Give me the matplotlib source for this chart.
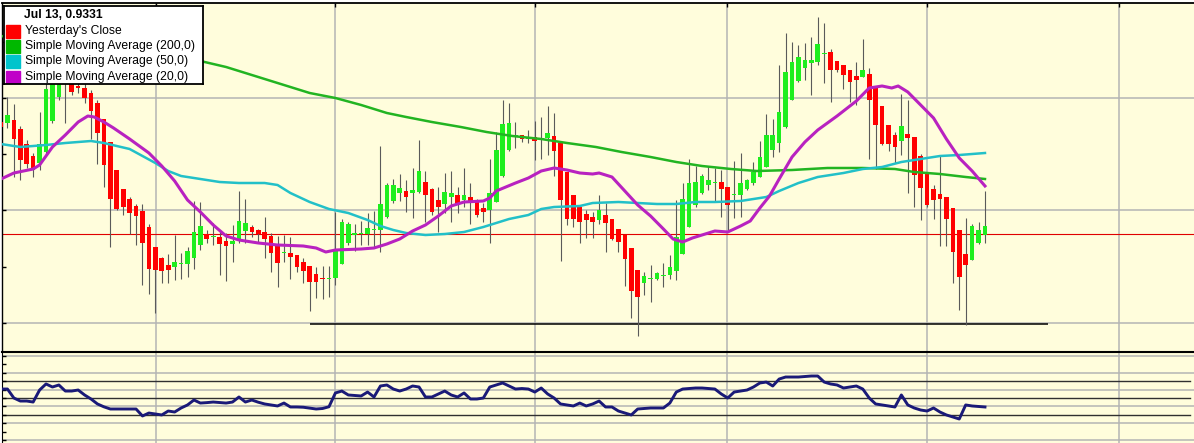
import matplotlib
matplotlib.use("Agg")
import matplotlib.pyplot as plt
import numpy as np
from matplotlib.patches import Rectangle

W, H, DPI = 1194, 443, 100
BG = "#fffddc"
GRID = "#b4b4b4"

# daily candles (oldest first)
opens = [0.9443, 0.9442, 0.9445, 0.9436, 0.9421, 0.9409, 0.9402, 0.9413, 0.9444, 0.9468,
         0.9487, 0.9487, 0.9479, 0.9477, 0.9472, 0.9462, 0.9446, 0.9423, 0.9395, 0.9376,
         0.9366, 0.9359, 0.9354, 0.9338, 0.9318, 0.9307, 0.9300, 0.9298, 0.9301, 0.9301,
         0.9307, 0.9320, 0.9331, 0.9328, 0.9328, 0.9324, 0.9321, 0.9324, 0.9334, 0.9338,
         0.9335, 0.9333, 0.9329, 0.9320, 0.9312, 0.9312, 0.9310, 0.9303, 0.9299, 0.9291,
         0.9287, 0.9286, 0.9287, 0.9301, 0.9322, 0.9330, 0.9331, 0.9331, 0.9335, 0.9335,
         0.9348, 0.9364, 0.9372, 0.9374, 0.9372, 0.9373, 0.9383, 0.9376, 0.9365, 0.9361,
         0.9368, 0.9370, 0.9365, 0.9368, 0.9365, 0.9357, 0.9355, 0.9363, 0.9389, 0.9415,
         0.9429, 0.9430, 0.9426, 0.9428, 0.9426, 0.9427, 0.9429, 0.9422, 0.9393, 0.9370,
         0.9358, 0.9351, 0.9348, 0.9345, 0.9350, 0.9346, 0.9336, 0.9330, 0.9317, 0.9295,
         0.9282, 0.9286, 0.9286, 0.9289, 0.9290, 0.9294, 0.9311, 0.9338, 0.9360, 0.9372,
         0.9380, 0.9382, 0.9383, 0.9378, 0.9370, 0.9370, 0.9376, 0.9382, 0.9388, 0.9398,
         0.9415, 0.9422, 0.9438, 0.9465, 0.9484, 0.9497, 0.9502, 0.9503, 0.9511, 0.9513,
         0.9504, 0.9500, 0.9495, 0.9489, 0.9488, 0.9491, 0.9478, 0.9459, 0.9440, 0.9430,
         0.9424, 0.9431, 0.9428, 0.9409, 0.9393, 0.9376, 0.9371, 0.9368, 0.9357, 0.9335,
         0.9311, 0.9305, 0.9322, 0.9330]
highs = [0.9447, 0.9468, 0.9461, 0.9439, 0.9425, 0.9412, 0.9453, 0.9490, 0.9503, 0.9497,
         0.9503, 0.9491, 0.9485, 0.9483, 0.9475, 0.9465, 0.9446, 0.9423, 0.9395, 0.9376,
         0.9368, 0.9361, 0.9361, 0.9341, 0.9318, 0.9308, 0.9311, 0.9330, 0.9312, 0.9318,
         0.9364, 0.9363, 0.9335, 0.9342, 0.9335, 0.9332, 0.9340, 0.9374, 0.9366, 0.9340,
         0.9336, 0.9348, 0.9332, 0.9329, 0.9330, 0.9328, 0.9310, 0.9307, 0.9299, 0.9298,
         0.9299, 0.9299, 0.9353, 0.9346, 0.9343, 0.9341, 0.9344, 0.9352, 0.9354, 0.9419,
         0.9382, 0.9386, 0.9391, 0.9385, 0.9397, 0.9425, 0.9394, 0.9377, 0.9378, 0.9392,
         0.9394, 0.9378, 0.9397, 0.9382, 0.9366, 0.9362, 0.9406, 0.9433, 0.9465, 0.9462,
         0.9443, 0.9430, 0.9435, 0.9444, 0.9448, 0.9459, 0.9452, 0.9422, 0.9393, 0.9370,
         0.9358, 0.9355, 0.9353, 0.9370, 0.9362, 0.9346, 0.9336, 0.9330, 0.9317, 0.9295,
         0.9293, 0.9300, 0.9293, 0.9302, 0.9310, 0.9365, 0.9382, 0.9406, 0.9399, 0.9391,
         0.9399, 0.9397, 0.9395, 0.9378, 0.9404, 0.9412, 0.9386, 0.9403, 0.9424, 0.9451,
         0.9446, 0.9500, 0.9532, 0.9523, 0.9520, 0.9522, 0.9528, 0.9548, 0.9542, 0.9516,
         0.9504, 0.9500, 0.9495, 0.9503, 0.9526, 0.9497, 0.9478, 0.9459, 0.9440, 0.9433,
         0.9471, 0.9465, 0.9428, 0.9411, 0.9393, 0.9380, 0.9409, 0.9368, 0.9357, 0.9335,
         0.9347, 0.9341, 0.9343, 0.9374]
lows = [0.9435, 0.9437, 0.9388, 0.9385, 0.9397, 0.9388, 0.9395, 0.9410, 0.9442, 0.9465,
        0.9442, 0.9470, 0.9472, 0.9462, 0.9426, 0.9401, 0.9378, 0.9318, 0.9355, 0.9350,
        0.9331, 0.9320, 0.9280, 0.9271, 0.9252, 0.9282, 0.9282, 0.9285, 0.9286, 0.9288,
        0.9296, 0.9315, 0.9322, 0.9320, 0.9290, 0.9284, 0.9303, 0.9322, 0.9322, 0.9328,
        0.9322, 0.9307, 0.9293, 0.9278, 0.9303, 0.9286, 0.9293, 0.9282, 0.9254, 0.9267,
        0.9266, 0.9268, 0.9280, 0.9301, 0.9320, 0.9314, 0.9320, 0.9320, 0.9318, 0.9313,
        0.9347, 0.9362, 0.9364, 0.9353, 0.9347, 0.9372, 0.9343, 0.9350, 0.9333, 0.9352,
        0.9343, 0.9352, 0.9358, 0.9341, 0.9348, 0.9343, 0.9322, 0.9363, 0.9388, 0.9414,
        0.9417, 0.9423, 0.9422, 0.9405, 0.9406, 0.9410, 0.9389, 0.9304, 0.9340, 0.9338,
        0.9322, 0.9327, 0.9327, 0.9341, 0.9313, 0.9325, 0.9313, 0.9279, 0.9247, 0.9229,
        0.9270, 0.9263, 0.9285, 0.9278, 0.9286, 0.9285, 0.9311, 0.9338, 0.9358, 0.9371,
        0.9375, 0.9363, 0.9348, 0.9335, 0.9347, 0.9348, 0.9375, 0.9380, 0.9388, 0.9398,
        0.9408, 0.9413, 0.9437, 0.9465, 0.9483, 0.9485, 0.9470, 0.9500, 0.9482, 0.9463,
        0.9493, 0.9476, 0.9463, 0.9460, 0.9488, 0.9406, 0.9396, 0.9420, 0.9414, 0.9402,
        0.9410, 0.9372, 0.9358, 0.9345, 0.9358, 0.9346, 0.9319, 0.9319, 0.9282, 0.9255,
        0.9240, 0.9305, 0.9321, 0.9322]
closes = [0.9438, 0.9450, 0.9426, 0.9405, 0.9401, 0.9395, 0.9421, 0.9476, 0.9495, 0.9490,
          0.9495, 0.9473, 0.9477, 0.9467, 0.9454, 0.9432, 0.9400, 0.9366, 0.9356, 0.9358,
          0.9352, 0.9349, 0.9322, 0.9296, 0.9295, 0.9294, 0.9295, 0.9303, 0.9302, 0.9314,
          0.9333, 0.9339, 0.9326, 0.9329, 0.9321, 0.9319, 0.9324, 0.9344, 0.9342, 0.9333,
          0.9331, 0.9326, 0.9312, 0.9302, 0.9313, 0.9308, 0.9298, 0.9294, 0.9283, 0.9283,
          0.9286, 0.9287, 0.9316, 0.9343, 0.9341, 0.9332, 0.9332, 0.9337, 0.9336, 0.9361,
          0.9380, 0.9380, 0.9377, 0.9368, 0.9375, 0.9394, 0.9370, 0.9353, 0.9358, 0.9373,
          0.9372, 0.9360, 0.9370, 0.9362, 0.9350, 0.9353, 0.9372, 0.9415, 0.9441, 0.9442,
          0.9430, 0.9426, 0.9427, 0.9424, 0.9427, 0.9432, 0.9414, 0.9365, 0.9346, 0.9346,
          0.9343, 0.9345, 0.9343, 0.9355, 0.9342, 0.9326, 0.9323, 0.9306, 0.9274, 0.9268,
          0.9289, 0.9287, 0.9292, 0.9290, 0.9298, 0.9328, 0.9366, 0.9382, 0.9383, 0.9389,
          0.9385, 0.9383, 0.9376, 0.9360, 0.9371, 0.9382, 0.9385, 0.9393, 0.9408, 0.9430,
          0.9430, 0.9453, 0.9493, 0.9503, 0.9508, 0.9505, 0.9505, 0.9521, 0.9512, 0.9495,
          0.9495, 0.9490, 0.9483, 0.9485, 0.9495, 0.9465, 0.9440, 0.9421, 0.9421, 0.9418,
          0.9439, 0.9427, 0.9390, 0.9377, 0.9360, 0.9365, 0.9366, 0.9346, 0.9313, 0.9288,
          0.9300, 0.9339, 0.9335, 0.9339]

# moving averages (candle index, price)
sma20_x = [0, 2, 5, 6, 8, 10, 12, 13.5, 14.5, 16, 17.5, 20, 23, 25, 27, 29, 31, 33, 35, 37,
           40, 43, 47, 49, 50.5, 52, 56, 58, 60, 62, 64, 66, 68, 70, 72, 75, 76, 77, 80, 82,
           84, 86, 88, 90, 92, 93, 95, 97, 99, 101, 103, 104.5, 106, 107.5, 109, 111, 113,
           115, 116.5, 118, 119.5, 121, 123, 125, 127, 130, 133, 135, 137, 138.5, 139.5, 141,
           143, 145, 147, 149, 151, 153]
sma20_y = [0.9386, 0.9392, 0.9396, 0.9400, 0.9418, 0.9430, 0.9443, 0.9449, 0.9448, 0.9443,
           0.9437, 0.9426, 0.9412, 0.9399, 0.9384, 0.9365, 0.9353, 0.9340, 0.9329, 0.9325,
           0.9322, 0.9320, 0.9319, 0.9317, 0.9313, 0.9315, 0.9316, 0.9317, 0.9321, 0.9326,
           0.9334, 0.9340, 0.9349, 0.9359, 0.9363, 0.9364, 0.9367, 0.9374, 0.9382, 0.9387,
           0.9394, 0.9397, 0.9395, 0.9392, 0.9391, 0.9392, 0.9388, 0.9374, 0.9360, 0.9349,
           0.9336, 0.9326, 0.9323, 0.9327, 0.9330, 0.9334, 0.9333, 0.9339, 0.9344, 0.9357,
           0.9369, 0.9386, 0.9408, 0.9423, 0.9435, 0.9449, 0.9464, 0.9477, 0.9479, 0.9477,
           0.9479, 0.9473, 0.9460, 0.9447, 0.9426, 0.9407, 0.9394, 0.9379]

sma50_x = [0, 3, 7, 10, 14, 16, 18, 20, 22, 24, 26, 28, 31, 34, 37, 41, 43, 45, 48, 51,
           54, 57, 59, 61, 63, 66, 69, 72, 75, 77, 79, 82, 84, 86, 90, 92, 96, 99, 102, 105,
           108, 111, 115, 117, 119, 121, 124, 127, 131, 134, 137, 140, 143, 146, 149, 153]
sma50_y = [0.9421, 0.9418, 0.9420, 0.9422, 0.9424, 0.9422, 0.9419, 0.9416, 0.9409, 0.9402,
           0.9394, 0.9389, 0.9386, 0.9383, 0.9382, 0.9382, 0.9380, 0.9372, 0.9363, 0.9356,
           0.9352, 0.9345, 0.9339, 0.9335, 0.9332, 0.9330, 0.9331, 0.9333, 0.9338, 0.9342,
           0.9346, 0.9350, 0.9356, 0.9358, 0.9359, 0.9362, 0.9363, 0.9362, 0.9361, 0.9361,
           0.9363, 0.9363, 0.9364, 0.9366, 0.9368, 0.9374, 0.9382, 0.9388, 0.9392, 0.9396,
           0.9398, 0.9403, 0.9406, 0.9409, 0.9410, 0.9412]

sma200_x = [0, 10, 20, 31, 35, 40, 44, 48, 52, 56, 60, 63, 67, 71.5, 75.5, 79.5, 84, 88,
            92.5, 96.5, 101, 105, 109, 113.5, 117.5, 123, 128.5, 134, 139, 142, 146, 150, 153]
sma200_y = [0.9529, 0.9521, 0.9513, 0.9504, 0.9498, 0.9488, 0.9480, 0.9472, 0.9467, 0.9460,
            0.9452, 0.9448, 0.9443, 0.9438, 0.9433, 0.9429, 0.9426, 0.9422, 0.9418, 0.9413,
            0.9408, 0.9403, 0.9399, 0.9396, 0.9394, 0.9395, 0.9397, 0.9397, 0.9396, 0.9393,
            0.9391, 0.9388, 0.9386]

# lower panel oscillator, one value per candle
osc = [60.7, 60.7, 50.0, 46.4, 46.4, 45.2, 59.5, 66.7, 63.1, 65.5,
       58.3, 58.3, 59.5, 53.6, 48.8, 42.9, 39.5, 36.9, 36.9, 36.9,
       36.9, 36.9, 28.6, 32.1, 31.0, 29.8, 34.5, 33.3, 38.1, 41.7,
       47.6, 44.0, 44.5, 45.2, 44.6, 44.0, 45.2, 51.2, 45.2, 47.6,
       45.0, 42.9, 41.7, 40.5, 44.0, 39.3, 39.3, 39.0, 38.0, 36.9,
       37.5, 39.6, 56.0, 58.3, 53.6, 53.0, 52.4, 57.1, 51.2, 64.3,
       65.5, 60.7, 58.3, 60.7, 64.3, 63.1, 51.2, 51.2, 54.8, 58.3,
       53.6, 51.2, 56.0, 48.8, 48.8, 50.0, 63.1, 65.5, 67.9, 64.3,
       60.7, 61.3, 60.7, 57.1, 61.9, 54.8, 50.0, 42.9, 41.7, 40.5,
       44.0, 40.5, 42.9, 46.4, 39.3, 39.3, 34.5, 32.1, 29.8, 36.9,
       37.5, 38.1, 38.1, 38.1, 44.0, 57.1, 60.7, 61.3, 61.9, 61.9,
       61.3, 60.7, 54.8, 50.0, 57.1, 58.3, 59.5, 63.1, 67.9, 69.0,
       64.3, 72.6, 75.0, 75.0, 75.0, 75.6, 76.2, 76.2, 69.0, 66.7,
       65.5, 61.9, 63.1, 64.3, 60.7, 50.0, 42.9, 41.7, 40.5, 39.3,
       53.6, 41.7, 38.1, 35.7, 34.5, 38.1, 33.3, 29.8, 27.4, 25.0,
       41.7, 40.5, 39.9, 39.3]

last_close = 0.9331
support_level = 0.9241
support_span = [48.1, 162.8]
month_starts = [24.1, 51.9, 83.0, 112.9, 144.0, 173.9]
price_grid = [0.9467, 0.9355, 0.9242]
price_minor = [0.9523, 0.9411, 0.9298]

legend_title = "Jul 13, 0.9331"
legend_items = [("Yesterday's Close", "#ff0000"),
                ("Simple Moving Average (200,0)", "#00b800"),
                ("Simple Moving Average (50,0)", "#00c4cc"),
                ("Simple Moving Average (20,0)", "#c000c8")]

plt.rcParams["font.family"] = ["Liberation Sans", "DejaVu Sans"]

fig = plt.figure(figsize=(W / DPI, H / DPI), dpi=DPI, facecolor="white")
ax = fig.add_axes([2 / W, 1 - 351 / H, 1192 / W, 348 / H], facecolor=BG)
ax2 = fig.add_axes([2 / W, 0, 1192 / W, 91 / H], facecolor=BG)

x = np.arange(len(opens))
o = np.array(opens)
c = np.array(closes)
hi = np.array(highs)
lo = np.array(lows)
up = c >= o

xlim = (0.156, 185.5)

# main panel
for m in month_starts:
    ax.axvline(m, color=GRID, lw=1.1, zorder=0)
for g in price_grid:
    ax.axhline(g, color=GRID, lw=1.1, zorder=0)
ax.axhline(last_close, color="#e00000", lw=0.8, zorder=1)
ax.hlines(support_level, support_span[0], support_span[1], color="black", lw=1.1, zorder=1)

ax.vlines(x, lo, hi, color="#5a5a5a", lw=0.8, zorder=2)
body_h = np.maximum(np.abs(c - o), 0.00012)
body_b = np.minimum(o, c)
ax.bar(x[up], body_h[up], bottom=body_b[up], width=0.72, color="#1eee1e", zorder=3)
ax.bar(x[~up], body_h[~up], bottom=body_b[~up], width=0.72, color="#ff0000", zorder=3)

ax.plot(sma200_x, sma200_y, color="#22b422", lw=1.8, zorder=4)
ax.plot(sma50_x, sma50_y, color="#22c0c8", lw=1.8, zorder=4)
ax.plot(sma20_x, sma20_y, color="#b822c0", lw=2.2, zorder=5)

ax.set_xlim(*xlim)
ax.set_ylim(0.9214, 0.9562)
ax.set_yticks(price_grid)
ax.set_yticks(price_minor, minor=True)
ax.set_xticks(month_starts)
ax.tick_params(axis="y", which="both", direction="in", length=3, width=1, left=True, labelleft=False)
ax.tick_params(axis="x", direction="in", length=3, width=1, top=True, bottom=False,
               labelbottom=False, labeltop=False)
for side in ["right", "bottom"]:
    ax.spines[side].set_visible(False)
ax.spines["top"].set_linewidth(1.3)
ax.spines["left"].set_linewidth(1.0)

# lower panel
for m in month_starts:
    ax2.axvline(m, color=GRID, lw=1.1, zorder=0)
for g in [0, 20, 40, 60, 80, 100]:
    ax2.axhline(g, color=GRID, lw=1.1, zorder=0)
for g in [30, 50, 70]:
    ax2.axhline(g, xmax=0.9966, color="#303030", lw=1.0, zorder=1)
ax2.plot(x, osc, color="#1a1a78", lw=2.1, zorder=3)
ax2.set_xlim(*xlim)
ax2.set_ylim(-3.6, 104.8)
ax2.set_yticks(np.arange(0, 101, 10))
ax2.set_xticks([])
ax2.tick_params(axis="y", direction="in", length=3, width=1, labelleft=False)
for side in ["right", "bottom"]:
    ax2.spines[side].set_visible(False)
ax2.spines["top"].set_linewidth(1.5)

# legend box
lg = fig.add_axes([4 / W, 1 - 84 / H, 199 / W, 78 / H], facecolor="white")
lg.set_xlim(0, 199)
lg.set_ylim(78, 0)
lg.set_xticks([])
lg.set_yticks([])
for s in lg.spines.values():
    s.set_linewidth(1.3)
    s.set_color("black")
lg.text(20, 9, legend_title, fontsize=8.7, fontweight="bold", va="center", ha="left")
for k, (label, col) in enumerate(legend_items):
    yc = 25 + k * 15.2
    lg.add_patch(Rectangle((2, yc - 6), 14, 12.5, color=col))
    lg.text(21, yc, label, fontsize=8.7, va="center", ha="left")

fig.savefig("out.png", dpi=DPI, facecolor="white")
